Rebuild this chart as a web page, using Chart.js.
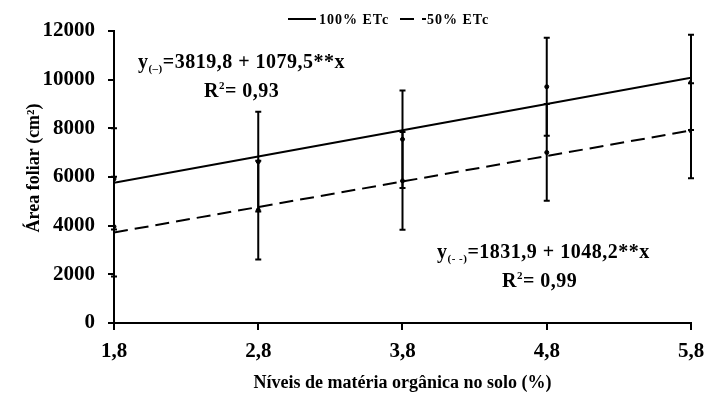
<!DOCTYPE html>
<html>
<head>
<meta charset="utf-8">
<script src="https://cdn.jsdelivr.net/npm/chart.js@4/dist/chart.umd.min.js"></script>
<style>
html, body { margin: 0; padding: 0; background: #fff; }
</style>
</head>
<body>
<canvas id="chart" width="707" height="401"></canvas>
<script>
// niveis de materia organica (%)
const xLevels = [1.8, 2.8, 3.8, 4.8, 5.8];
const yTicks = [0, 2000, 4000, 6000, 8000, 10000, 12000];

// medias e desvios
const mean100 = [5920, 6630, 7550, 9710, 9890];
const err100 = [2080, 2050, 2000, 2010, 1960];
const mean50 = [3960, 4640, 5840, 7010, 7900];
const err50 = [2050, 2030, 2010, 1990, 1955];

// retas ajustadas
const fit100 = [5763, 6843, 7922, 9002, 10081];
const fit50 = [3719, 4767, 5815, 6863, 7912];

const seriesNames = ["100% ETc", "50% ETc"];

const serif = '"Liberation Serif", "Times New Roman", serif';

const toPts = (xs, ys) => xs.map((x, i) => ({ x, y: ys[i] }));

const errorBars = {
    id: "errorBars",
    afterDatasetsDraw(chart) {
        const { ctx, scales: { x, y } } = chart;
        const sets = [[mean100, err100], [mean50, err50]];
        ctx.save();
        ctx.strokeStyle = "#000";
        ctx.lineWidth = 2;
        sets.forEach(([m, e]) => {
            xLevels.forEach((lv, i) => {
                const px = x.getPixelForValue(lv);
                const top = y.getPixelForValue(m[i] + e[i]);
                const bot = y.getPixelForValue(m[i] - e[i]);
                ctx.beginPath();
                ctx.moveTo(px, top); ctx.lineTo(px, bot);
                ctx.moveTo(px - 3, top); ctx.lineTo(px + 3, top);
                ctx.moveTo(px - 3, bot); ctx.lineTo(px + 3, bot);
                ctx.stroke();
            });
        });
        ctx.restore();
    }
};

// equacoes (posicao em coordenadas dos dados)
const notes = [
    { x: 1.966, y: 10480, sub: "(\u2013)", text: "=3819,8 + 1079,5**x" },
    { x: 2.424, y: 9290, r2: "= 0,93" },
    { x: 4.039, y: 2670, sub: "(- -)", text: "=1831,9 + 1048,2**x" },
    { x: 4.49, y: 1480, r2: "= 0,99" }
];

const annotations = {
    id: "annotations",
    afterDraw(chart) {
        const { ctx, scales: { x, y } } = chart;
        ctx.save();
        ctx.fillStyle = "#000";
        ctx.textBaseline = "alphabetic";
        ctx.textAlign = "left";
        ctx.letterSpacing = "0.5px";
        notes.forEach(n => {
            let px = x.getPixelForValue(n.x);
            const py = y.getPixelForValue(n.y);
            if (n.sub) {
                ctx.font = "bold 20px " + serif;
                ctx.fillText("y", px, py);
                px += ctx.measureText("y").width;
                ctx.font = "bold 11px " + serif;
                ctx.fillText(n.sub, px, py + 4);
                px += ctx.measureText(n.sub).width;
                ctx.font = "bold 20px " + serif;
                ctx.fillText(n.text, px, py);
            } else {
                ctx.font = "bold 20px " + serif;
                ctx.fillText("R", px, py);
                px += ctx.measureText("R").width;
                ctx.font = "bold 11px " + serif;
                ctx.fillText("2", px, py - 8);
                px += ctx.measureText("2").width;
                ctx.font = "bold 20px " + serif;
                ctx.fillText(n.r2, px, py);
            }
        });

        // legenda
        const ly = 19;
        ctx.strokeStyle = "#000";
        ctx.lineWidth = 2;
        ctx.beginPath();
        ctx.moveTo(288, ly); ctx.lineTo(316, ly);
        ctx.stroke();
        ctx.beginPath();
        ctx.moveTo(400, ly); ctx.lineTo(414, ly);
        ctx.moveTo(422, ly); ctx.lineTo(426, ly);
        ctx.stroke();
        ctx.font = "bold 14px " + serif;
        ctx.letterSpacing = "1px";
        ctx.textBaseline = "middle";
        ctx.fillText(seriesNames[0], 319, ly + 1);
        ctx.fillText(seriesNames[1], 427, ly + 1);
        ctx.restore();
    }
};

const ctx = document.getElementById("chart").getContext("2d");
new Chart(ctx, {
    type: "scatter",
    data: {
        datasets: [
            {
                label: seriesNames[0],
                type: "line",
                data: toPts(xLevels, fit100),
                borderColor: "#000",
                borderWidth: 2,
                pointRadius: 0,
                fill: false,
                tension: 0
            },
            {
                label: seriesNames[1],
                type: "line",
                data: toPts(xLevels, fit50),
                borderColor: "#000",
                borderWidth: 2,
                borderDash: [14, 7],
                pointRadius: 0,
                fill: false,
                tension: 0
            },
            {
                label: seriesNames[0] + " medias",
                data: toPts(xLevels, mean100),
                backgroundColor: "#000",
                borderColor: "#000",
                pointRadius: 2
            },
            {
                label: seriesNames[1] + " medias",
                data: toPts(xLevels, mean50),
                backgroundColor: "#000",
                borderColor: "#000",
                pointRadius: 2
            }
        ]
    },
    options: {
        responsive: false,
        animation: false,
        layout: { padding: { top: 31, right: 16, left: 0, bottom: 0 } },
        plugins: { legend: { display: false }, tooltip: { enabled: false } },
        scales: {
            x: {
                type: "linear",
                min: 1.8,
                max: 5.8,
                afterBuildTicks: s => { s.ticks = xLevels.map(v => ({ value: v })); },
                afterFit: s => { s.height = 78; s.paddingLeft = 0; s.paddingRight = 0; },
                ticks: {
                    color: "#000",
                    padding: 9,
                    font: { family: serif, size: 21, weight: "bold" },
                    callback: v => v.toFixed(1).replace(".", ",")
                },
                grid: { drawOnChartArea: false, drawTicks: true, tickLength: 7, color: "#000", lineWidth: 2 },
                border: { display: true, color: "#000", width: 2 },
                title: {
                    display: true,
                    text: "Níveis de matéria orgânica no solo (%)",
                    color: "#000",
                    font: { family: serif, size: 18, weight: "bold" },
                    padding: { top: 0, bottom: 7 }
                }
            },
            y: {
                min: 0,
                max: 12000,
                afterBuildTicks: s => { s.ticks = yTicks.map(v => ({ value: v })); },
                afterFit: s => { s.width = 114; },
                ticks: {
                    color: "#000",
                    padding: 13,
                    font: { family: serif, size: 21, weight: "bold" },
                    callback: v => String(v)
                },
                grid: { drawOnChartArea: false, drawTicks: true, tickLength: 6, color: "#000", lineWidth: 2 },
                border: { display: true, color: "#000", width: 2 },
                title: {
                    display: true,
                    text: "\u00A0\u00A0\u00A0\u00A0Área foliar (cm²)",
                    color: "#000",
                    font: { family: serif, size: 18, weight: "bold" },
                    padding: { top: 24, bottom: 0 }
                }
            }
        }
    },
    plugins: [errorBars, annotations]
});
</script>
</body>
</html>
